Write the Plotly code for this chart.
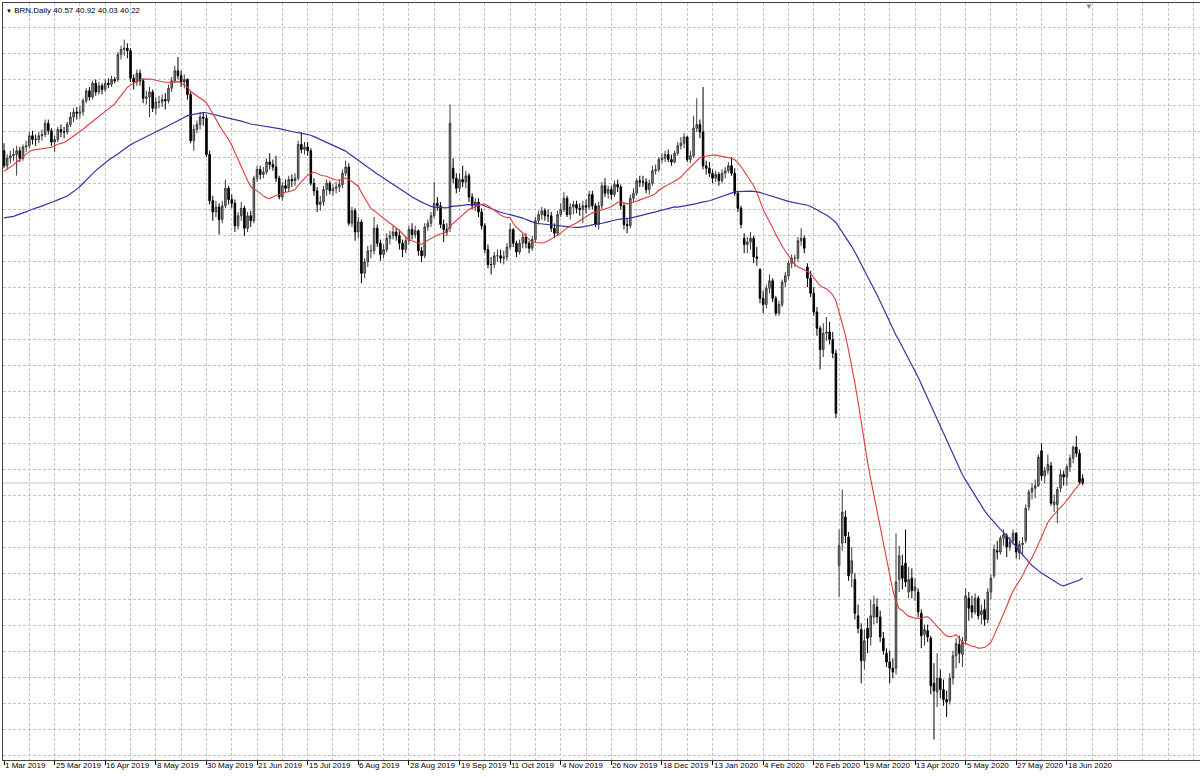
import plotly.graph_objects as go
import pandas as pd

# ---- data (BRN, daily bars, 1 Mar 2019 .. 25 Jun 2020) ----
opens = [
 66.8, 65.6, 66.2, 66.4, 66.5, 66.8, 66.2, 67.1, 67.2, 68.0,
 67.7, 67.7, 68.0, 68.1, 69.0, 68.4, 67.5, 67.7, 68.5, 68.3,
 68.3, 68.9, 69.5, 69.9, 69.8, 69.9, 70.8, 71.6, 71.1, 72.2,
 71.5, 72.0, 71.7, 72.2, 72.1, 72.5, 72.5, 74.5, 74.9, 75.0,
 74.8, 72.6, 72.3, 73.0, 72.4, 71.0, 71.1, 71.5, 70.2, 70.7,
 70.7, 70.9, 70.8, 71.8, 72.4, 73.2, 72.8, 72.3, 72.5, 71.3,
 67.6, 68.5, 68.9, 69.5, 69.4, 66.5, 62.8, 61.9, 62.3, 61.3,
 62.4, 63.8, 62.9, 62.6, 60.8, 61.6, 62.2, 60.6, 61.6, 61.2,
 64.6, 65.3, 64.9, 65.1, 65.9, 65.7, 65.5, 64.6, 63.1, 64.0,
 63.8, 64.5, 64.4, 64.6, 67.3, 66.9, 67.1, 66.8, 64.2, 63.6,
 62.5, 62.7, 63.7, 64.2, 63.6, 63.8, 63.9, 64.1, 65.0, 65.5,
 61.0, 62.0, 60.3, 61.1, 57.0, 57.9, 58.8, 58.8, 60.6, 59.4,
 58.5, 58.9, 59.8, 60.0, 60.3, 60.0, 59.4, 58.9, 59.6, 60.5,
 60.1, 60.4, 58.8, 58.4, 60.7, 61.0, 61.6, 62.6, 62.4, 60.9,
 60.5, 60.6, 65.4, 64.6, 63.8, 64.5, 64.3, 64.8, 63.1, 62.4,
 62.7, 61.9, 60.8, 58.9, 57.7, 57.7, 58.4, 58.4, 58.2, 58.3,
 59.1, 60.5, 59.4, 58.7, 59.4, 59.9, 59.4, 59.0, 59.7, 61.2,
 61.7, 62.0, 61.6, 61.6, 60.6, 60.2, 61.7, 62.1, 63.0, 61.7,
 62.3, 62.5, 62.2, 62.1, 62.4, 62.3, 63.3, 62.4, 60.9, 62.4,
 64.0, 63.4, 63.7, 63.3, 64.1, 63.9, 62.4, 60.9, 60.8, 63.0,
 63.4, 64.4, 64.3, 64.3, 63.7, 64.2, 65.2, 65.3, 66.1, 66.2,
 66.5, 66.1, 65.9, 66.6, 67.2, 67.4, 67.9, 66.1, 66.4, 68.6,
 68.9, 68.3, 65.6, 65.4, 65.0, 64.6, 64.9, 64.4, 65.0, 65.2,
 65.6, 65.0, 63.4, 62.2, 59.8, 59.3, 59.5, 59.8, 58.3, 57.3,
 55.0, 54.5, 55.8, 56.4, 55.0, 53.8, 54.5, 56.3, 56.8, 57.8,
 58.2, 58.2, 59.6, 59.8, 57.5, 56.6, 55.4, 53.9, 52.6, 50.9,
 52.2, 52.3, 51.7, 50.6, 33.6, 35.4, 37.5, 35.9, 33.0, 32.5,
 29.6, 28.5, 26.0, 28.6, 27.9, 29.5, 30.3, 29.5, 27.8, 26.6,
 25.9, 25.4, 25.4, 32.5, 33.6, 33.8, 31.5, 32.6, 31.6, 31.5,
 29.8, 28.1, 28.4, 27.8, 24.2, 23.5, 24.6, 23.7, 22.9, 22.8,
 24.6, 26.4, 27.3, 26.5, 27.6, 31.0, 30.4, 29.9, 31.0, 29.7,
 30.1, 29.3, 31.5, 32.8, 34.8, 34.7, 35.8, 36.0, 35.1, 35.6,
 36.2, 34.6, 35.3, 35.6, 38.3, 39.5, 39.8, 40.0, 42.8, 40.8,
 41.2, 41.6, 38.5, 38.5, 39.8, 40.9, 40.7, 41.5, 42.2, 43.1,
 42.6, 40.57,
]
highs = [
 67.4, 66.5, 66.8, 67.0, 67.2, 67.1, 67.3, 67.6, 68.3, 68.4,
 68.1, 68.3, 68.5, 69.3, 69.3, 68.6, 68.0, 68.7, 68.9, 68.7,
 69.1, 69.9, 70.2, 70.3, 70.4, 71.0, 71.8, 71.9, 72.4, 72.5,
 72.3, 72.2, 72.5, 72.6, 72.8, 72.7, 74.7, 75.2, 75.7, 75.4,
 75.0, 72.9, 73.3, 73.3, 72.6, 71.6, 71.9, 71.7, 71.1, 71.2,
 71.3, 71.4, 72.1, 72.7, 73.6, 74.3, 73.2, 72.9, 72.6, 71.5,
 68.9, 69.2, 69.9, 69.9, 69.7, 66.8, 63.2, 62.8, 62.6, 62.8,
 64.5, 64.0, 63.3, 62.9, 61.9, 62.7, 62.4, 61.9, 62.0, 64.8,
 65.6, 65.6, 65.5, 66.2, 66.6, 66.1, 66.4, 64.8, 64.3, 64.5,
 64.8, 64.9, 65.0, 67.6, 68.3, 67.5, 67.5, 67.0, 64.6, 63.9,
 63.2, 64.0, 64.5, 64.4, 64.1, 64.3, 64.5, 65.3, 66.0, 65.8,
 62.3, 62.2, 61.5, 61.3, 58.2, 59.2, 59.3, 61.5, 60.9, 59.7,
 59.3, 60.2, 60.4, 60.8, 60.6, 60.5, 59.7, 59.9, 60.8, 61.0,
 60.8, 60.5, 59.1, 61.0, 61.3, 61.9, 64.3, 63.1, 62.7, 61.3,
 61.0, 70.5, 66.2, 65.0, 65.0, 65.6, 65.2, 65.0, 63.4, 63.0,
 63.0, 62.2, 61.0, 59.3, 58.3, 58.7, 58.9, 58.9, 58.8, 59.4,
 61.0, 60.6, 59.6, 59.7, 60.2, 60.2, 59.6, 60.0, 61.5, 62.0,
 62.3, 62.2, 62.1, 61.9, 61.0, 62.0, 62.6, 63.5, 63.2, 62.6,
 62.8, 62.8, 62.6, 62.8, 62.9, 63.6, 63.6, 62.6, 62.7, 64.3,
 64.6, 64.0, 64.0, 64.4, 64.5, 64.1, 62.6, 61.4, 63.3, 63.8,
 64.6, 64.8, 64.8, 64.6, 64.5, 65.6, 65.7, 66.3, 66.6, 66.8,
 66.9, 66.5, 66.8, 67.5, 67.9, 68.2, 68.0, 66.8, 69.6, 71.0,
 69.3, 71.9, 66.0, 65.9, 65.3, 65.2, 65.1, 65.3, 65.5, 65.9,
 66.3, 65.4, 63.6, 62.4, 60.2, 59.9, 60.3, 60.0, 59.1, 57.4,
 55.6, 56.1, 56.9, 56.6, 55.2, 54.8, 56.5, 57.1, 58.0, 58.5,
 58.5, 59.9, 60.6, 60.0, 57.8, 57.2, 55.9, 54.3, 52.8, 53.0,
 53.5, 53.1, 52.3, 50.9, 36.5, 39.7, 38.0, 36.3, 35.1, 33.0,
 30.5, 29.0, 28.5, 29.4, 30.9, 31.2, 31.0, 30.0, 28.3, 27.0,
 26.8, 26.2, 36.2, 35.2, 34.5, 36.5, 33.5, 33.4, 32.6, 31.8,
 30.1, 28.9, 28.9, 28.0, 25.8, 26.6, 25.3, 24.5, 23.6, 25.0,
 26.8, 27.8, 28.0, 27.9, 31.8, 31.5, 31.2, 31.4, 31.2, 30.5,
 30.9, 31.8, 32.9, 35.3, 35.6, 36.0, 36.5, 36.2, 35.9, 36.5,
 36.3, 35.6, 35.9, 38.5, 39.7, 40.2, 40.5, 42.5, 43.4, 41.5,
 42.5, 41.9, 39.3, 39.9, 41.3, 41.2, 41.7, 42.5, 43.2, 44.0,
 42.9, 40.92,
]
lows = [
 65.4, 65.3, 65.8, 66.0, 64.8, 65.9, 66.0, 66.7, 67.0, 67.3,
 67.2, 67.4, 67.6, 67.9, 68.1, 67.2, 66.7, 67.5, 67.9, 67.8,
 68.1, 68.7, 69.1, 69.3, 69.4, 69.6, 70.6, 70.8, 70.9, 71.2,
 71.3, 71.3, 71.5, 71.8, 71.9, 72.2, 72.3, 74.1, 74.4, 74.2,
 72.3, 71.7, 72.0, 72.0, 70.6, 70.5, 69.5, 69.9, 69.7, 70.2,
 70.3, 70.1, 70.6, 71.5, 72.2, 72.5, 71.9, 71.8, 70.9, 67.4,
 66.8, 68.2, 68.5, 68.8, 66.3, 62.5, 61.2, 61.5, 60.1, 61.0,
 62.2, 62.5, 62.2, 60.3, 60.5, 61.2, 60.0, 60.3, 60.7, 61.0,
 64.3, 64.5, 64.6, 64.9, 65.3, 65.2, 64.3, 62.9, 62.8, 63.5,
 63.5, 63.9, 64.0, 64.4, 66.6, 66.5, 66.4, 64.0, 63.2, 61.9,
 62.0, 62.4, 63.2, 63.3, 63.2, 63.4, 63.5, 63.8, 64.8, 60.8,
 60.7, 59.6, 59.8, 56.2, 56.6, 57.5, 58.2, 58.5, 59.1, 58.0,
 58.2, 58.7, 59.3, 59.7, 59.6, 58.9, 58.3, 58.6, 59.3, 59.7,
 59.8, 58.4, 57.9, 58.2, 60.4, 60.7, 61.4, 62.0, 60.6, 59.5,
 60.0, 60.3, 64.2, 63.4, 63.5, 63.9, 63.8, 62.7, 62.1, 62.0,
 61.5, 60.5, 58.6, 57.4, 56.9, 57.4, 57.9, 57.8, 57.7, 58.0,
 58.9, 59.1, 58.3, 58.5, 59.0, 59.0, 58.6, 58.8, 59.5, 60.9,
 61.3, 61.2, 61.1, 60.3, 59.8, 60.0, 61.5, 61.9, 61.5, 61.3,
 61.7, 61.8, 61.6, 61.0, 61.8, 62.1, 62.1, 60.7, 60.5, 62.1,
 63.1, 63.0, 62.9, 63.1, 63.5, 62.1, 60.5, 60.2, 60.6, 62.7,
 63.2, 63.9, 63.9, 63.4, 63.3, 64.0, 64.9, 65.1, 65.8, 65.9,
 65.9, 65.6, 65.8, 66.4, 66.9, 67.0, 65.9, 65.8, 66.2, 68.3,
 67.8, 65.3, 64.9, 64.7, 64.2, 64.3, 64.0, 64.2, 64.6, 65.0,
 64.8, 63.2, 61.9, 60.6, 58.6, 58.6, 58.9, 57.8, 57.6, 54.6,
 53.8, 54.2, 55.4, 54.7, 53.6, 53.6, 54.3, 55.9, 56.5, 57.4,
 57.5, 57.9, 59.2, 58.6, 55.9, 55.1, 53.6, 52.0, 49.3, 50.3,
 51.6, 51.3, 50.2, 45.4, 31.1, 34.8, 35.4, 32.4, 31.9, 29.3,
 28.2, 24.2, 25.3, 26.6, 27.2, 28.9, 29.0, 27.5, 26.5, 25.5,
 24.2, 24.6, 24.9, 31.5, 31.7, 31.9, 31.0, 31.0, 30.8, 29.5,
 27.0, 27.2, 27.5, 23.3, 19.7, 22.3, 23.0, 22.4, 21.5, 22.5,
 24.1, 25.4, 25.8, 25.5, 27.3, 29.2, 29.4, 29.7, 29.3, 28.9,
 28.8, 29.0, 30.9, 32.6, 34.1, 34.5, 35.2, 34.3, 34.8, 35.3,
 34.2, 34.1, 34.4, 35.4, 38.0, 38.9, 39.0, 39.9, 40.4, 40.2,
 40.9, 38.4, 37.9, 37.0, 39.5, 40.0, 40.0, 41.1, 41.8, 42.3,
 40.1, 40.03,
]
closes = [
 65.6, 66.2, 66.4, 66.5, 66.8, 66.2, 67.1, 67.2, 68.0, 67.7,
 67.7, 68.0, 68.1, 69.0, 68.4, 67.5, 67.7, 68.5, 68.3, 68.3,
 68.9, 69.5, 69.9, 69.8, 69.9, 70.8, 71.6, 71.1, 72.2, 71.5,
 72.0, 71.7, 72.2, 72.1, 72.5, 72.4, 74.5, 74.9, 75.0, 74.8,
 72.6, 72.3, 73.0, 72.4, 71.0, 71.1, 71.5, 70.2, 70.7, 70.7,
 70.9, 70.8, 71.8, 72.4, 73.2, 72.8, 72.3, 72.5, 71.3, 67.6,
 68.5, 68.9, 69.5, 69.4, 66.5, 62.8, 61.9, 62.3, 61.3, 62.4,
 63.8, 62.9, 62.6, 60.8, 61.6, 62.2, 60.6, 61.6, 61.2, 64.6,
 65.3, 64.9, 65.1, 65.9, 65.7, 65.5, 64.6, 63.1, 64.0, 63.8,
 64.5, 64.4, 64.6, 67.3, 66.9, 67.1, 66.8, 64.2, 63.6, 62.5,
 62.7, 63.7, 64.2, 63.6, 63.8, 63.9, 64.1, 65.0, 65.5, 61.0,
 62.0, 60.3, 61.1, 57.0, 57.9, 58.8, 58.8, 60.6, 59.4, 58.5,
 58.9, 59.8, 60.0, 60.3, 60.0, 59.4, 58.9, 59.6, 60.5, 60.1,
 60.4, 58.8, 58.4, 60.7, 61.0, 61.6, 62.6, 62.4, 60.9, 60.5,
 60.3, 69.0, 64.6, 63.8, 64.5, 64.3, 64.8, 63.1, 62.4, 62.7,
 61.9, 60.8, 58.9, 57.7, 57.7, 58.4, 58.4, 58.2, 58.3, 59.1,
 60.5, 59.4, 58.7, 59.4, 59.9, 59.4, 59.0, 59.7, 61.2, 61.7,
 62.0, 61.6, 61.6, 60.6, 60.2, 61.7, 62.1, 63.0, 61.7, 62.3,
 62.5, 62.2, 62.1, 62.4, 62.3, 63.3, 62.4, 60.9, 62.4, 64.0,
 63.4, 63.7, 63.3, 64.1, 63.9, 62.4, 60.9, 60.8, 63.0, 63.4,
 64.4, 64.3, 64.3, 63.7, 64.2, 65.2, 65.3, 66.1, 66.2, 66.5,
 66.1, 65.9, 66.6, 67.2, 67.4, 67.9, 66.1, 66.4, 68.6, 68.9,
 68.3, 65.6, 65.4, 65.0, 64.6, 64.9, 64.4, 65.0, 65.2, 65.6,
 65.0, 63.4, 62.2, 60.9, 59.3, 59.5, 59.8, 58.3, 58.2, 55.0,
 54.5, 55.8, 56.4, 55.0, 53.8, 54.5, 56.3, 56.8, 57.8, 58.2,
 58.2, 59.6, 59.8, 59.0, 56.6, 55.4, 53.9, 52.6, 50.9, 52.2,
 52.3, 51.7, 50.6, 45.8, 35.2, 37.9, 36.0, 32.8, 34.0, 29.8,
 28.6, 26.0, 27.6, 27.8, 29.6, 30.5, 29.5, 27.9, 26.8, 25.9,
 25.4, 25.1, 32.3, 34.4, 32.6, 32.3, 32.5, 31.6, 31.9, 29.9,
 28.0, 28.5, 27.9, 24.0, 23.6, 24.6, 23.7, 22.9, 22.7, 24.6,
 26.4, 27.4, 26.6, 27.5, 31.2, 30.2, 29.9, 31.0, 29.6, 30.0,
 29.3, 31.5, 32.6, 34.9, 34.7, 35.8, 36.1, 35.1, 35.5, 36.2,
 34.7, 35.3, 35.4, 38.2, 39.5, 39.8, 40.0, 42.3, 40.8, 41.2,
 41.7, 38.6, 38.7, 39.7, 40.9, 40.7, 41.5, 42.2, 43.1, 42.6,
 40.3, 40.22,
]
# closes of the 71 bars before the first visible bar (Nov 2018 - Feb 2019),
# needed only so that the moving averages start at the left edge
lead_in_closes = [
 63.1, 64.1, 63.2, 59.4, 61.1, 60.8, 59.4, 60.1, 59.3, 62.3,
 62.7, 62.2, 60.7, 62.3, 60.6, 60.8, 60.8, 62.1, 60.9, 60.2,
 56.9, 57.8,
 55.0, 54.4, 51.1, 55.1, 52.8, 52.8, 54.4,
 55.5, 56.6, 57.7, 57.9, 59.3, 62.0, 62.3, 61.1, 60.6, 61.2, 61.9,
 61.8, 63.3, 63.3, 62.1, 61.7, 61.7, 62.2, 60.5, 61.9, 62.3, 62.5,
 63.4, 63.1, 62.6, 63.3, 62.2, 62.7, 62.1, 63.0, 64.2, 65.2, 66.9,
 67.1, 67.1, 67.7, 67.7, 67.7, 65.4, 65.8, 67.0, 66.9,
]
tick_labels = [
 "1 Mar 2019", "25 Mar 2019", "16 Apr 2019", "8 May 2019", "30 May 2019",
 "21 Jun 2019", "15 Jul 2019", "6 Aug 2019", "28 Aug 2019", "19 Sep 2019",
 "11 Oct 2019", "4 Nov 2019", "26 Nov 2019", "18 Dec 2019", "13 Jan 2020",
 "4 Feb 2020", "26 Feb 2020", "19 Mar 2020", "13 Apr 2020", "5 May 2020",
 "27 May 2020", "18 Jun 2020",
]
BARS_PER_LABEL = 16
fast_period = 20
slow_period = 72
title_text = "BRN,Daily"

# ---- derived ----
n = len(closes)
idx = list(range(n))
all_closes = pd.Series(lead_in_closes + closes)
k = len(lead_in_closes)
ma_fast = all_closes.rolling(fast_period).mean().iloc[k:].tolist()
ma_slow = all_closes.rolling(slow_period).mean().iloc[k:].tolist()
tick_pos = [i * BARS_PER_LABEL for i in range(len(tick_labels))]

GRID = "#c4c4c4"
FONT = "Liberation Sans, Arial, sans-serif"

fig = go.Figure()
fig.add_trace(go.Candlestick(
    x=idx, open=opens, high=highs, low=lows, close=closes,
    increasing=dict(line=dict(color="#3a3a3a", width=1), fillcolor="#909090"),
    decreasing=dict(line=dict(color="#000000", width=1), fillcolor="#000000"),
    whiskerwidth=0, showlegend=False, hoverinfo="skip",
))
fig.add_trace(go.Scatter(x=idx, y=ma_slow, mode="lines",
                         line=dict(color="#3434a4", width=1.2),
                         showlegend=False, hoverinfo="skip"))
fig.add_trace(go.Scatter(x=idx, y=ma_fast, mode="lines",
                         line=dict(color="#e23a3a", width=1.1),
                         showlegend=False, hoverinfo="skip"))

# current price line
fig.add_shape(type="line", xref="paper", x0=0, x1=1, yref="y",
              y0=closes[-1], y1=closes[-1],
              line=dict(color="#c0c0c0", width=1), layer="below")

# date labels (left-aligned to their tick, MT4 style)
for pos, lab in zip(tick_pos, tick_labels):
    fig.add_annotation(x=pos, y=0, xref="x", yref="paper", text=lab,
                       showarrow=False, xanchor="left", yanchor="top",
                       xshift=0, yshift=0, borderpad=0,
                       font=dict(family=FONT, size=8, color="#000000"))

# title
o, h, l, c = opens[-1], highs[-1], lows[-1], closes[-1]
fig.add_annotation(
    x=0, y=1, xref="paper", yref="paper", xanchor="left", yanchor="top",
    xshift=2, yshift=-2, showarrow=False, borderpad=0,
    text=f"<span style='font-size:6px'>▼</span> {title_text} {o:.2f} {h:.2f} {l:.2f} {c:.2f}",
    font=dict(family=FONT, size=8, color="#000000"))
# chart-shift marker
fig.add_annotation(x=0.9073, y=1, xref="paper", yref="paper", xanchor="center",
                   yanchor="top", yshift=5, showarrow=False, text="▼",
                   font=dict(size=8, color="#8a8a8a"))

fig.update_layout(
    width=1200, height=778,
    margin=dict(l=3, r=0, t=3, b=18),
    paper_bgcolor="#ffffff", plot_bgcolor="#ffffff",
    showlegend=False,
    xaxis=dict(
        range=[-0.316, 378.1], rangeslider=dict(visible=False),
        tickvals=tick_pos, showticklabels=False,
        ticks="outside", ticklen=4, tickcolor="#000000", tickwidth=1,
        showgrid=True, gridcolor=GRID, griddash="3px,2px", gridwidth=1,
        minor=dict(dtick=8, tick0=0, showgrid=True, gridcolor=GRID,
                   griddash="3px,2px", gridwidth=1, ticks=""),
        zeroline=False, showline=True, linecolor="#404040", linewidth=1,
        mirror=True, fixedrange=True,
    ),
    yaxis=dict(
        range=[18.06, 78.62], showticklabels=False, ticks="",
        tick0=43.42, dtick=2.08,
        showgrid=True, gridcolor=GRID, griddash="3px,2px", gridwidth=1,
        zeroline=False, showline=True, linecolor="#404040", linewidth=1,
        fixedrange=True,
    ),
)

fig.write_html(
    "out.html",
    config={"displayModeBar": False},
    post_script="document.body.style.margin='0';document.body.style.overflow='hidden';",
)
